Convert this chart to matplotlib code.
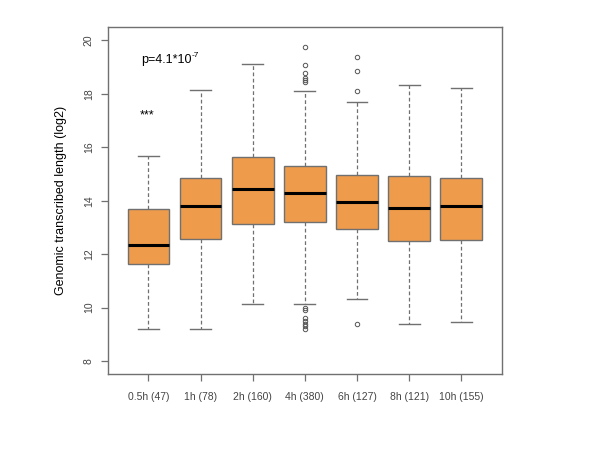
import matplotlib
matplotlib.use('Agg')
import matplotlib.pyplot as plt

# five-number summaries
labels = ['0.5h (47)', '1h (78)', '2h (160)', '4h (380)', '6h (127)', '8h (121)', '10h (155)']
whislo = [9.20, 9.20, 10.15, 10.15, 10.31, 9.40, 9.45]
q1 = [11.63, 12.58, 13.13, 13.20, 12.94, 12.48, 12.54]
med = [12.34, 13.81, 14.45, 14.29, 13.97, 13.73, 13.81]
q3 = [13.69, 14.84, 15.63, 15.30, 14.96, 14.92, 14.86]
whishi = [15.69, 18.14, 19.13, 18.11, 17.68, 18.31, 18.21]
fliers = [
    [],
    [],
    [],
    [19.75, 19.09, 18.78, 18.59, 18.50, 18.43, 9.97, 9.90, 9.62, 9.50, 9.40, 9.30, 9.20],
    [19.39, 18.84, 18.11, 9.37],
    [],
    [],
]

plt.rcParams['font.family'] = ['Liberation Sans', 'DejaVu Sans']
grey = '#707070'

fig = plt.figure(figsize=(6, 4.5), dpi=100)
ax = fig.add_axes([0.1795, 0.169, 0.657, 0.770])

stats = []
for i in range(len(labels)):
    stats.append({'label': labels[i], 'whislo': whislo[i], 'q1': q1[i], 'med': med[i],
                  'q3': q3[i], 'whishi': whishi[i], 'fliers': fliers[i]})

ax.bxp(stats, positions=range(1, len(labels) + 1), widths=0.8, patch_artist=True,
       boxprops=dict(facecolor='#EE9B4B', edgecolor=grey, linewidth=1.0),
       medianprops=dict(color='black', linewidth=2.2),
       whiskerprops=dict(color=grey, linestyle=(0, (3, 2)), linewidth=0.9),
       capprops=dict(color=grey, linewidth=1.0),
       flierprops=dict(marker='o', markersize=3.2, markerfacecolor='none',
                       markeredgecolor='#555555', markeredgewidth=0.7),
       capwidths=0.4)

ax.set_xlim(0.22, 7.78)
ax.set_ylim(7.52, 20.48)
ax.set_yticks([8, 10, 12, 14, 16, 18, 20])
ax.set_yticklabels(['8', '10', '12', '14', '16', '18', '20'], rotation=90, va='center')
ax.set_xticks(range(1, len(labels) + 1))
ax.set_xticklabels(labels)
ax.tick_params(colors=grey, labelcolor='#444444', labelsize=7.5, length=5, width=0.9)
ax.tick_params(axis='x', pad=8)
ax.tick_params(axis='y', pad=5)
for sp in ax.spines.values():
    sp.set_color(grey)
    sp.set_linewidth(1.0)

ax.set_ylabel('Genomic transcribed length (log2)', fontsize=9, labelpad=12)
t = ax.text(0.86, 19.25, 'p=4.1*10', fontsize=9, va='center', ha='left')
ax.annotate('-7', xy=(1, 0.6), xycoords=t, fontsize=6, va='bottom', ha='left')
ax.text(0.84, 17.2, '***', fontsize=9, va='center', ha='left')

fig.savefig('out.png', dpi=100)
